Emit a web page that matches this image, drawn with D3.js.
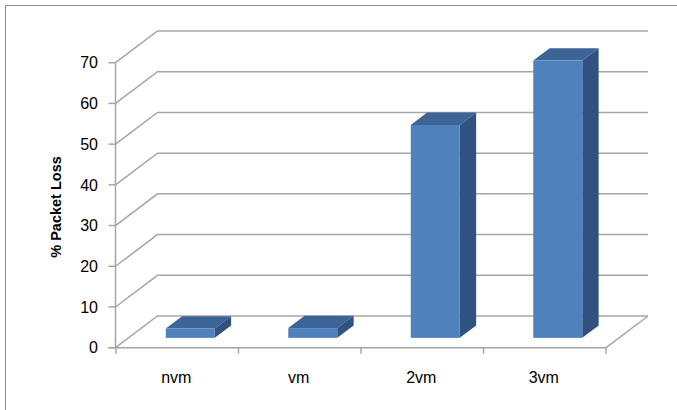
<!DOCTYPE html>
<html>
<head>
<meta charset="utf-8">
<script src="https://cdn.jsdelivr.net/npm/d3@7/dist/d3.min.js"></script>
<style>
  html, body { margin: 0; padding: 0; background: #fff; }
  svg { display: block; }
</style>
</head>
<body>
<script>
// ---- data ----
const categories = ["nvm", "vm", "2vm", "3vm"];
const packetLoss = [2.3, 2.4, 52.3, 68.1];
const yTicks = [0, 10, 20, 30, 40, 50, 60, 70];
const yLabel = "% Packet Loss";

// ---- layout ----
const W = 677, H = 410;
const DX = 42, DY = -31.7;          // depth offset of back wall
const F0 = 0.31, F1 = 0.70;          // bar depth (fraction of full depth)
const font = "'Liberation Sans', Arial, sans-serif";

const svg = d3.select("body").append("svg")
  .attr("width", W).attr("height", H);

const y = d3.scaleLinear().domain([0, 70]).range([347.7, 62.7]);
const x = d3.scaleBand().domain(categories).range([116, 606]).paddingInner(0).paddingOuter(0);
const barW = x.bandwidth() * 0.4;
const x0 = 115.5, x1 = 606;

// chart border (top & left visible)
svg.append("path")
  .attr("d", `M5.5,${H} L5.5,5.5 L${W},5.5`)
  .attr("fill", "none").attr("stroke", "#8c8c8c").attr("stroke-width", 1);

const grid = "#a6a6a6";
// gridlines: left side wall + back wall
svg.append("g").selectAll("path").data(yTicks).join("path")
  .attr("d", t => `M${x0},${y(t)} L${x0 + DX},${y(t) + DY} L${x1 + DX},${y(t) + DY}`)
  .attr("fill", "none").attr("stroke", grid).attr("stroke-width", 1.5);

// floor right edge and front edge
svg.append("path")
  .attr("d", `M${x0 - 7},${y(0)} L${x1},${y(0)} L${x1 + DX},${y(0) + DY}`)
  .attr("fill", "none").attr("stroke", grid).attr("stroke-width", 1.5);

// vertical axis line
svg.append("line")
  .attr("x1", x0).attr("x2", x0).attr("y1", y(70)).attr("y2", y(0))
  .attr("stroke", grid).attr("stroke-width", 1.5);

// y ticks
svg.append("g").selectAll("line").data(yTicks).join("line")
  .attr("x1", x0 - 7).attr("x2", x0).attr("y1", d => y(d)).attr("y2", d => y(d))
  .attr("stroke", grid).attr("stroke-width", 1.5);

// x ticks at category boundaries
const bounds = categories.map(c => x(c)).concat([x1]);
svg.append("g").selectAll("line").data(bounds).join("line")
  .attr("x1", d => d).attr("x2", d => d).attr("y1", y(0)).attr("y2", y(0) + 6)
  .attr("stroke", grid).attr("stroke-width", 1.5);

// y tick labels
svg.append("g").selectAll("text").data(yTicks).join("text")
  .attr("x", 98).attr("y", d => y(d)).attr("dy", "0.36em")
  .attr("text-anchor", "end")
  .attr("font-family", font).attr("font-size", 16).attr("fill", "#000")
  .text(d => d);

// category labels
svg.append("g").selectAll("text").data(categories).join("text")
  .attr("x", d => x(d) + x.bandwidth() / 2 - 1).attr("y", 383)
  .attr("text-anchor", "middle")
  .attr("font-family", font).attr("font-size", 16).attr("fill", "#000")
  .text(d => d);

// y axis title
svg.append("text")
  .attr("transform", "translate(61,207) rotate(-90)")
  .attr("text-anchor", "middle")
  .attr("font-family", font).attr("font-size", 14.5).attr("font-weight", "bold")
  .attr("fill", "#000")
  .text(yLabel);

// 3D bars
const bars = svg.append("g");
categories.forEach((c, i) => {
  const v = packetLoss[i];
  const bx = x(c) + (x.bandwidth() - barW) / 2;
  const fx = bx + F0 * DX, fyOff = F0 * DY;
  const bxOff = (F1 - F0) * DX, byOff = (F1 - F0) * DY;
  const top = y(v) + fyOff, bot = y(0) + fyOff;
  const g = bars.append("g");
  // top face
  g.append("path")
    .attr("d", `M${fx},${top} L${fx + bxOff},${top + byOff} L${fx + barW + bxOff},${top + byOff} L${fx + barW},${top} Z`)
    .attr("fill", "#3c6496");
  // side face
  g.append("path")
    .attr("d", `M${fx + barW},${top} L${fx + barW + bxOff},${top + byOff} L${fx + barW + bxOff},${bot + byOff} L${fx + barW},${bot} Z`)
    .attr("fill", "#2f5281");
  // front face
  g.append("rect")
    .attr("x", fx).attr("y", top).attr("width", barW).attr("height", bot - top)
    .attr("fill", "#4f81bd");
});
</script>
</body>
</html>
